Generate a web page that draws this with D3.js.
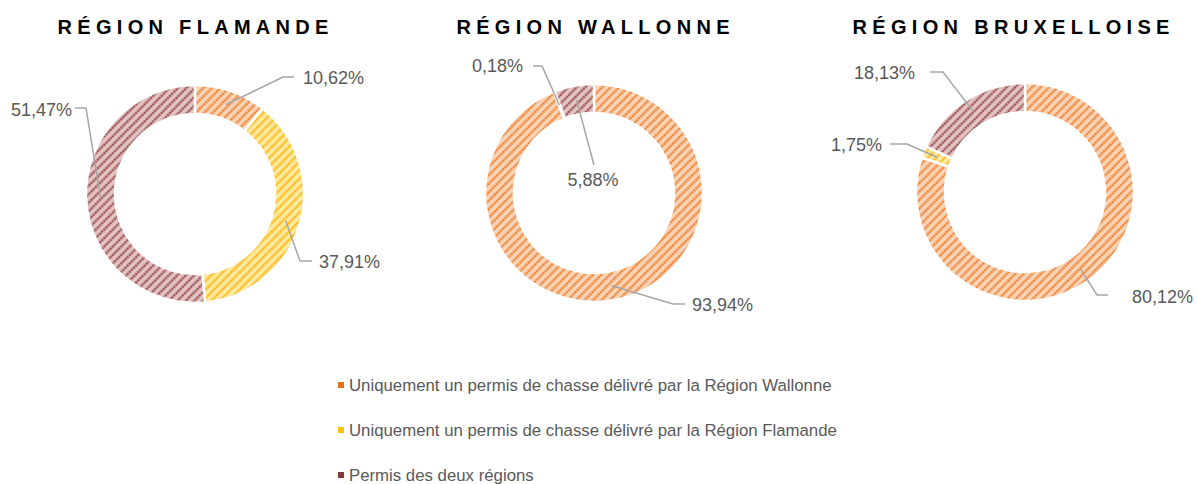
<!DOCTYPE html>
<html lang="fr">
<head>
<meta charset="utf-8">
<title>Permis de chasse</title>
<script src="https://d3js.org/d3.v7.min.js"></script>
<style>
  body { margin: 0; background: #fff; }
  svg { display: block; font-family: "Liberation Sans", Arial, sans-serif; }
</style>
</head>
<body>
<svg width="1197" height="484"></svg>
<script>
// données
var regions = ["RÉGION FLAMANDE", "RÉGION WALLONNE", "RÉGION BRUXELLOISE"];
var categories = [
  "Uniquement un permis de chasse délivré par la Région Wallonne",
  "Uniquement un permis de chasse délivré par la Région Flamande",
  "Permis des deux régions"
];
var wallonneOnly = [10.62, 93.94, 80.12];
var flamandeOnly = [37.91, 0.18, 1.75];
var bothRegions  = [51.47, 5.88, 18.13];

// mise en page
var centers = [[195, 194], [594, 193], [1025, 192]];
var titleX = [193, 593, 1011];
var outerR = 109, innerR = 80;
var titleSpacing = 5.3;

// position des étiquettes (relative au centre) : texte, coude, fin du trait
var labelPos = [
  [ {t: [108, -116], a: "start", e: [88, -117], h: [99, -117]},
    {t: [124, 68],   a: "start", e: [105, 67],  h: [117, 67]},
    {t: [-123, -84], a: "end",   e: [-109, -86], h: [-120, -86]} ],
  [ {t: [98, 112],   a: "start", e: [79, 111],  h: [91, 111]},
    {t: [-71, -127], a: "end",   e: [-52, -127], h: [-61, -127]},
    {t: [-1, -13],   a: "middle", e: [0, -28],  h: [0, -28]} ],
  [ {t: [107, 105],  a: "start", e: [72, 103],  h: [83, 103]},
    {t: [-143, -47], a: "end",   e: [-118, -48], h: [-135, -48]},
    {t: [-110, -119], a: "end",  e: [-82, -120], h: [-95, -120]} ]
];

var palette = [
  {bg: "#fbd6b8", band: "#f5b285", dot: "#e46c0a", solid: "#e7711b"},
  {bg: "#ffeaa8", band: "#ffd65c", dot: "#f5a800", solid: "#ffc000"},
  {bg: "#e7c6c6", band: "#c99898", dot: "#7a2c2c", solid: "#843c3c"}
];

var svg = d3.select("svg");
var defs = svg.append("defs");

palette.forEach(function(c, i) {
  var p = defs.append("pattern")
    .attr("id", "hatch" + i)
    .attr("patternUnits", "userSpaceOnUse")
    .attr("width", 6).attr("height", 6)
    .attr("patternTransform", "rotate(-45)");
  p.append("rect").attr("width", 6).attr("height", 6).attr("fill", c.bg);
  p.append("rect").attr("y", 1.5).attr("width", 6).attr("height", 3).attr("fill", c.band);
  p.append("line").attr("x1", 0).attr("x2", 6).attr("y1", 3).attr("y2", 3)
    .attr("stroke", c.dot).attr("stroke-width", 1.4)
    .attr("stroke-dasharray", "1.5,1.5");
});

var pie = d3.pie().sort(null).value(function(d) { return d; });
var arc = d3.arc().innerRadius(innerR).outerRadius(outerR);
var fmt = function(v) { return v.toFixed(2).replace(".", ",") + "%"; };

regions.forEach(function(name, r) {
  var values = [wallonneOnly[r], flamandeOnly[r], bothRegions[r]];
  var cx = centers[r][0], cy = centers[r][1];

  svg.append("text")
    .attr("x", titleX[r] + titleSpacing / 2).attr("y", 34)
    .attr("text-anchor", "middle")
    .attr("font-size", 20).attr("font-weight", "bold")
    .attr("letter-spacing", titleSpacing)
    .attr("fill", "#000")
    .text(name);

  var g = svg.append("g").attr("transform", "translate(" + cx + "," + cy + ")");
  var slices = pie(values);

  g.selectAll("path.slice")
    .data(slices)
    .join("path")
    .attr("class", "slice")
    .attr("d", arc)
    .attr("fill", function(d, i) { return "url(#hatch" + i + ")"; })
    .attr("stroke", "#fff")
    .attr("stroke-width", 2.5);

  // traits de rappel
  g.selectAll("path.leader")
    .data(slices)
    .join("path")
    .attr("class", "leader")
    .attr("fill", "none")
    .attr("stroke", "#a6a6a6")
    .attr("stroke-width", 1.5)
    .attr("d", function(d, i) {
      var c = arc.centroid(d), lp = labelPos[r][i];
      return d3.line()([c, lp.e, lp.h]);
    });

  g.selectAll("text.lbl")
    .data(slices)
    .join("text")
    .attr("class", "lbl")
    .attr("x", function(d, i) { return labelPos[r][i].t[0]; })
    .attr("y", function(d, i) { return labelPos[r][i].t[1]; })
    .attr("dy", "0.35em")
    .attr("text-anchor", function(d, i) { return labelPos[r][i].a; })
    .attr("font-size", 18)
    .attr("fill", "#595959")
    .text(function(d) { return fmt(d.data); });
});

// légende
var legY = d3.scalePoint().domain(categories).range([385, 475]);
var leg = svg.append("g");
leg.selectAll("rect")
  .data(categories)
  .join("rect")
  .attr("x", 338)
  .attr("y", function(d) { return legY(d) - 3; })
  .attr("width", 6).attr("height", 6)
  .attr("fill", function(d, i) { return palette[i].solid; });
leg.selectAll("text")
  .data(categories)
  .join("text")
  .attr("x", 349)
  .attr("y", function(d) { return legY(d); })
  .attr("dy", "0.35em")
  .attr("font-size", 16.8)
  .attr("fill", "#595959")
  .text(function(d) { return d; });
</script>
</body>
</html>
